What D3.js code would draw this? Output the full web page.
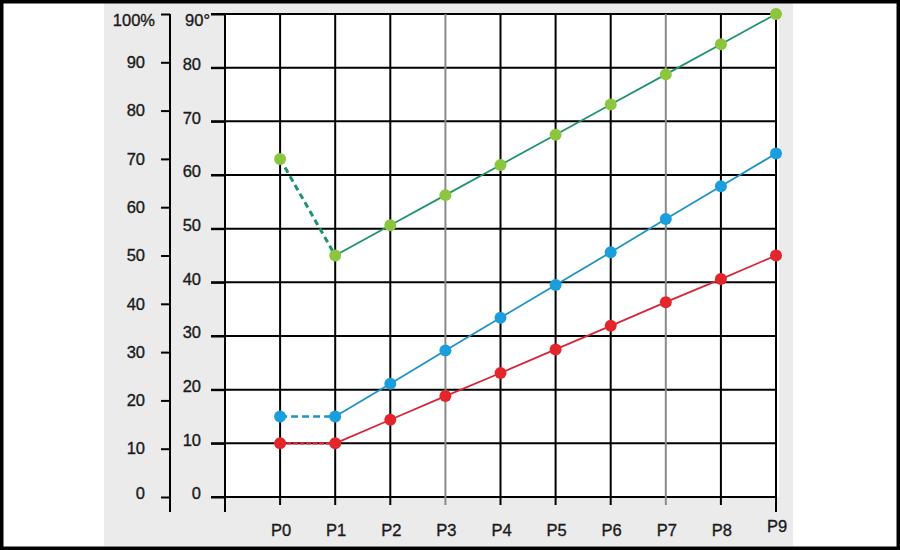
<!DOCTYPE html>
<html><head><meta charset="utf-8">
<script src="https://cdn.jsdelivr.net/npm/d3@7"></script>
<style>html,body{margin:0;padding:0;background:#fff;}svg{display:block;}</style>
</head><body>
<svg id="chart" width="900" height="550"></svg>
<script>
const categories = ["P0","P1","P2","P3","P4","P5","P6","P7","P8","P9"];
const greenPct = [70, 50, 56.25, 62.5, 68.75, 75, 81.25, 87.5, 93.75, 100];
const blueDeg  = [15, 15, 21.1, 27.3, 33.4, 39.5, 45.6, 51.8, 57.9, 64];
const redDeg   = [10, 10, 14.4, 18.8, 23.1, 27.5, 31.9, 36.3, 40.6, 45];
const pctTicks = [0,10,20,30,40,50,60,70,80,90,100];
const degTicks = [0,10,20,30,40,50,60,70,80,90];
const grayCats = ["P3","P7"];

const svg = d3.select("#chart");
const font = "'Liberation Sans', Arial, sans-serif";
const fs = 16.5;

// frame
svg.append("rect").attr("x",0).attr("y",0).attr("width",900).attr("height",550).attr("fill","#fff");
svg.append("rect").attr("x",104).attr("y",3).attr("width",689).attr("height",543).attr("fill","#ebebeb");
svg.append("rect").attr("x",1.5).attr("y",1.5).attr("width",897).attr("height",547)
  .attr("fill","none").attr("stroke","#000").attr("stroke-width",4);

const x = d3.scaleLinear().domain([-1, categories.length-1]).range([225, 776]);
const yDeg = d3.scaleLinear().domain([0,90]).range([497,14]);
const yPct = d3.scaleLinear().domain([0,100]).range([497,14]);

// white plot area
svg.append("rect").attr("x",x(-1)).attr("y",yDeg(90)).attr("width",x(9)-x(-1)+3).attr("height",yDeg(0)-yDeg(90)).attr("fill","#fff");

// horizontal grid (degree levels)
svg.append("g").selectAll("line").data(degTicks).join("line")
  .attr("x1",211).attr("x2",x(9)).attr("y1",d=>yDeg(d)).attr("y2",d=>yDeg(d))
  .attr("stroke","#000").attr("stroke-width",2);

// vertical grid
svg.append("g").selectAll("line").data(categories).join("line")
  .attr("x1",(d,i)=>x(i)).attr("x2",(d,i)=>x(i))
  .attr("y1",yDeg(90)).attr("y2",(d,i)=> i===categories.length-1 ? 512 : 505)
  .attr("stroke",d=>grayCats.includes(d)?"#8a8a8a":"#000").attr("stroke-width",2);

function styleText(sel){
  sel.attr("font-family",font).attr("font-size",fs).attr("fill","#1a1a1a")
     .attr("stroke","#1a1a1a").attr("stroke-width",0.35);
}

// degree axis
const degAxis = svg.append("g").attr("transform",`translate(${x(-1)},0)`)
  .call(d3.axisLeft(yDeg).tickValues(degTicks).tickSize(14).tickPadding(10)
    .tickFormat(d=> d===90 ? "90°" : d));
degAxis.select(".domain").remove();
degAxis.append("line").attr("x1",0).attr("x2",0).attr("y1",yDeg(90)).attr("y2",512)
  .attr("stroke","#000").attr("stroke-width",2);
degAxis.selectAll(".tick line").attr("stroke","#000").attr("stroke-width",2);
degAxis.selectAll(".tick text").call(styleText)
  .attr("dy",d=> d===90 ? "0.68em" : "0.12em")
  .attr("dx",d=> d===90 ? 9 : 0);

// percent axis
const pctAxis = svg.append("g").attr("transform","translate(170,0)")
  .call(d3.axisLeft(yPct).tickValues(pctTicks).tickSize(9).tickPadding(16)
    .tickFormat(d=> d===100 ? "100%" : d));
pctAxis.select(".domain").remove();
pctAxis.append("line").attr("x1",0).attr("x2",0).attr("y1",yPct(100)).attr("y2",512)
  .attr("stroke","#000").attr("stroke-width",2);
pctAxis.selectAll(".tick line").attr("stroke","#000").attr("stroke-width",2);
pctAxis.selectAll(".tick text").call(styleText)
  .attr("dy",d=> d===0 ? "0.12em" : d===100 ? "0.68em" : "0.32em")
  .attr("dx",d=> d===100 ? 10 : 0);

// x labels
svg.append("g").selectAll("text").data(categories).join("text")
  .attr("x",(d,i)=>x(i)+1).attr("y",(d,i)=> i===categories.length-1 ? 532 : 536)
  .attr("text-anchor","middle").call(styleText)
  .text(d=>d);

// series
const series = [
  {vals: greenPct, y: yPct, line:"#1f9468", dot:"#8cc63e", dash:"6,4", dw:3},
  {vals: blueDeg,  y: yDeg, line:"#1e93c8", dot:"#1a9fdc", dash:"7,4", dw:2.5},
  {vals: redDeg,   y: yDeg, line:"#d6263a", dot:"#e3262b", dash:"5,1.5", dw:2.5}
];
series.forEach(s=>{
  const pts = s.vals.map((v,i)=>[x(i), s.y(v)]);
  const g = svg.append("g");
  g.append("path").attr("d", d3.line()(pts.slice(0,2)))
    .attr("fill","none").attr("stroke",s.line).attr("stroke-width",s.dw).attr("stroke-dasharray",s.dash);
  g.append("path").attr("d", d3.line()(pts.slice(1)))
    .attr("fill","none").attr("stroke",s.line).attr("stroke-width",1.8);
  g.selectAll("circle").data(pts).join("circle")
    .attr("cx",d=>d[0]).attr("cy",d=>d[1]).attr("r",6).attr("fill",s.dot);
});
</script>
</body></html>
